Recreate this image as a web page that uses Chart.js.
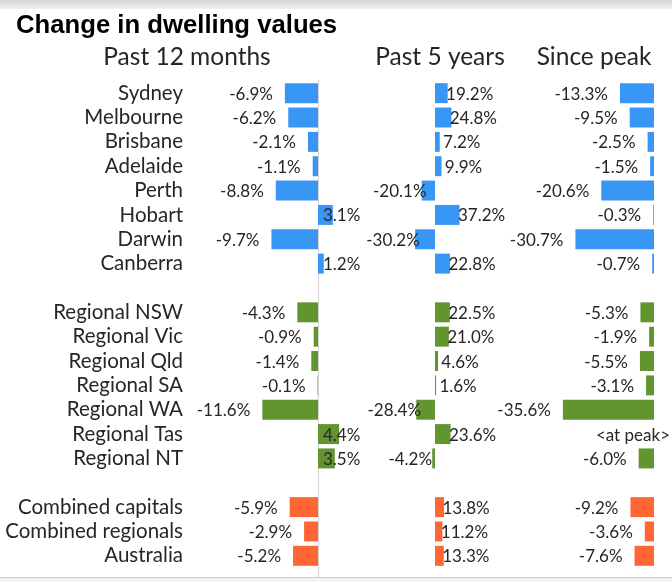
<!DOCTYPE html>
<html>
<head>
<meta charset="utf-8">
<title>Change in dwelling values</title>
<script src="https://cdn.jsdelivr.net/npm/chart.js@4.4.1/dist/chart.umd.min.js"></script>
<style>
    html, body { margin: 0; padding: 0; background: #fff; }
    #wrap { width: 672px; height: 582px; position: relative; }
</style>
</head>
<body>
<div id="wrap"><canvas id="dwellingChart"></canvas></div>
<script>
// data
var regions = ['Sydney', 'Melbourne', 'Brisbane', 'Adelaide', 'Perth', 'Hobart', 'Darwin', 'Canberra', '',
    'Regional NSW', 'Regional Vic', 'Regional Qld', 'Regional SA', 'Regional WA', 'Regional Tas', 'Regional NT', '',
    'Combined capitals', 'Combined regionals', 'Australia'];
var regionGroup = ['capital', 'capital', 'capital', 'capital', 'capital', 'capital', 'capital', 'capital', '',
    'regional', 'regional', 'regional', 'regional', 'regional', 'regional', 'regional', '',
    'combined', 'combined', 'combined'];
var past12Months = [-6.9, -6.2, -2.1, -1.1, -8.8, 3.1, -9.7, 1.2, null,
    -4.3, -0.9, -1.4, -0.1, -11.6, 4.4, 3.5, null,
    -5.9, -2.9, -5.2];
var past5Years = [19.2, 24.8, 7.2, 9.9, -20.1, 37.2, -30.2, 22.8, null,
    22.5, 21.0, 4.6, 1.6, -28.4, 23.6, -4.2, null,
    13.8, 11.2, 13.3];
// 0 = still at peak
var sincePeak = [-13.3, -9.5, -2.5, -1.5, -20.6, -0.3, -30.7, -0.7, null,
    -5.3, -1.9, -5.5, -3.1, -35.6, 0, -6.0, null,
    -9.2, -3.6, -7.6];
var panelTitles = ['Past 12 months', 'Past 5 years', 'Since peak'];
var chartTitle = 'Change in dwelling values';

var groupColours = {
    capital: 'rgb(56, 150, 245)',
    regional: 'rgb(98, 148, 48)',
    combined: 'rgb(255, 102, 51)',
    '': 'rgba(0,0,0,0)'
};
var barColours = regionGroup.map(function (g) { return groupColours[g]; });

// layout of the three panels: where zero sits and pixels per percent
var areaLeft = 190;
var areaRight = 660;
var panels = [
    { zero: 318, pxPer: 4.8, titleX: 187 },
    { zero: 435, pxPer: 0.66, titleX: 440 },
    { zero: 654, pxPer: 2.56, titleX: 594 }
];
function scaleFor(p) {
    return {
        type: 'linear',
        display: false,
        min: -(p.zero - areaLeft) / p.pxPer,
        max: (areaRight - p.zero) / p.pxPer,
        afterFit: function (scale) { scale.height = 0; }
    };
}

var textColour = '#262626';
var catFont = '"Lato", sans-serif';

var backdrop = {
    id: 'backdrop',
    beforeDraw: function (chart) {
        var ctx = chart.ctx;
        ctx.save();
        ctx.fillStyle = '#fff';
        ctx.fillRect(0, 0, chart.width, chart.height);
        var grad = ctx.createLinearGradient(0, 0, 0, 9);
        grad.addColorStop(0, '#d6d6d6');
        grad.addColorStop(1, '#f1f1f1');
        ctx.fillStyle = grad;
        ctx.fillRect(0, 0, chart.width, 9);
        ctx.fillStyle = '#f3f3f3';
        ctx.fillRect(0, 577, chart.width, 5);
        ctx.fillStyle = '#c9c9c9';
        ctx.fillRect(0, 577, chart.width, 1);

        // titles
        ctx.fillStyle = '#000';
        ctx.font = 'bold 25.7px "Liberation Sans", Arial, sans-serif';
        ctx.textAlign = 'left';
        ctx.textBaseline = 'alphabetic';
        ctx.fillText(chartTitle, 16, 33);
        ctx.fillStyle = textColour;
        ctx.font = '24.5px ' + catFont;
        ctx.textAlign = 'center';
        panelTitles.forEach(function (t, i) {
            ctx.fillText(t, panels[i].titleX, 65);
        });
        ctx.restore();
    },
    beforeDatasetsDraw: function (chart) {
        var ctx = chart.ctx;
        var x = Math.round(chart.scales.x0.getPixelForValue(0)) + 0.5;
        ctx.save();
        ctx.strokeStyle = '#d4d4d4';
        ctx.lineWidth = 1;
        ctx.beginPath();
        ctx.moveTo(x, 80);
        ctx.lineTo(x, 577);
        ctx.stroke();
        ctx.restore();
    }
};

var valueLabels = {
    id: 'valueLabels',
    afterDatasetsDraw: function (chart) {
        var ctx = chart.ctx;
        ctx.save();
        ctx.font = '17px ' + catFont;
        ctx.fillStyle = textColour;
        ctx.textBaseline = 'middle';
        chart.data.datasets.forEach(function (ds, d) {
            var meta = chart.getDatasetMeta(d);
            meta.data.forEach(function (bar, i) {
                var v = ds.data[i];
                if (v === null) return;
                var text = v.toFixed(1) + '%';
                var x;
                if (d === 2 && v === 0) {
                    ctx.textAlign = 'right';
                    ctx.fillText('<at peak>', bar.x + 16, bar.y + 1);
                    return;
                }
                if (d === 1) {
                    ctx.textAlign = 'center';
                    x = v < 0 ? bar.x - 22 : bar.x + 22;
                } else if (v < 0) {
                    ctx.textAlign = 'right';
                    x = bar.x - 12;
                } else {
                    ctx.textAlign = 'left';
                    x = bar.base + 5;
                }
                ctx.fillText(text, x, bar.y + 1);
            });
        });
        ctx.restore();
    }
};

function makeDataset(label, values, axis) {
    return {
        label: label,
        data: values,
        xAxisID: axis,
        backgroundColor: barColours,
        borderWidth: 0,
        grouped: false,
        categoryPercentage: 1,
        barPercentage: 0.82
    };
}

var dwellingChart = new Chart(document.getElementById('dwellingChart'), {
    type: 'bar',
    data: {
        labels: regions,
        datasets: [
            makeDataset(panelTitles[0], past12Months, 'x0'),
            makeDataset(panelTitles[1], past5Years, 'x1'),
            makeDataset(panelTitles[2], sincePeak, 'x2')
        ]
    },
    options: {
        indexAxis: 'y',
        responsive: true,
        maintainAspectRatio: false,
        animation: false,
        layout: {
            padding: { top: 81, bottom: 14, left: 0, right: 672 - areaRight }
        },
        scales: {
            y: {
                type: 'category',
                position: 'left',
                grid: { display: false, drawTicks: false },
                border: { display: false },
                ticks: {
                    autoSkip: false,
                    padding: 7,
                    color: textColour,
                    font: { family: catFont, size: 20.5 }
                },
                afterFit: function (scale) {
                    scale.width = areaLeft;
                    // the label padding would otherwise push the bottom row up
                    scale.paddingTop = 0;
                    scale.paddingBottom = 0;
                }
            },
            x0: scaleFor(panels[0]),
            x1: scaleFor(panels[1]),
            x2: scaleFor(panels[2])
        },
        plugins: {
            legend: { display: false },
            tooltip: { enabled: false },
            title: { display: false }
        }
    },
    plugins: [backdrop, valueLabels]
});
</script>
</body>
</html>
